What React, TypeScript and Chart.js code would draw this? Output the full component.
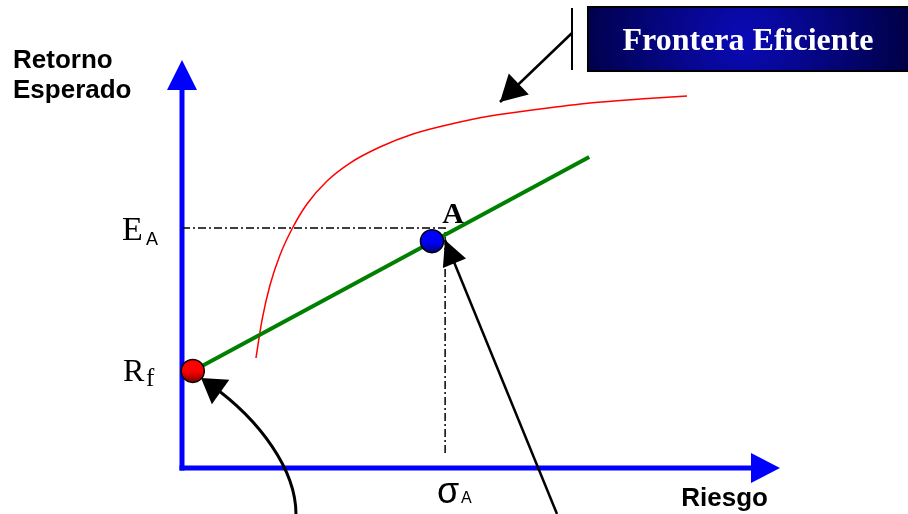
import React, { useEffect, useRef } from "react";
import { Chart, registerables } from "chart.js";

Chart.register(...registerables);

// ---- data (conceptual units: risk on x, expected return on y) ----
const frontierRisk = [1.237, 1.338, 1.472, 1.639, 1.839, 2.090, 2.425, 2.809, 3.311, 3.863, 4.431, 5.151, 5.987, 6.823, 7.659, 8.445];
const frontierReturn = [2.696, 3.627, 4.485, 5.221, 5.858, 6.471, 7.034, 7.475, 7.868, 8.186, 8.407, 8.627, 8.799, 8.946, 9.044, 9.118];
const cmlRisk = [0.18, 6.81];
const cmlReturn = [2.38, 7.62];
const portfolioNames = ["Rf", "A"];
const portfolioRisk = [0.18, 4.18];
const portfolioReturn = [2.38, 5.56];
const guideRisk = [0, 4.40, 4.40];
const guideReturn = [5.88, 5.88, 0.32];
const axisTitleY = ["Retorno", "Esperado"];
const axisTitleX = "Riesgo";
const boxLabel = "Frontera Eficiente";
const riskMax = 10;
const returnMax = 10;

// annotation anchors (data units)
const arrowRfFrom = [1.906, -1.127];
const arrowRfCtrl1 = [1.906, -0.049];
const arrowRfCtrl2 = [1.304, 1.176];
const arrowRfTo = [0.318, 2.206];
const arrowAFrom = [6.271, -1.127];
const arrowATo = [4.398, 5.588];
const arrowFrontFrom = [6.522, 10.662];
const arrowFrontTo = [5.318, 8.971];
const bracketX = [6.522, 6.522];
const bracketY = [11.275, 9.755];
const boxX = [6.789, 12.3];
const boxY = [11.299, 9.73];

const SERIF = '"Liberation Serif", "Times New Roman", serif';
const SANS = '"Liberation Sans", Arial, sans-serif';

function arrowHead(ctx: CanvasRenderingContext2D, fx: number, fy: number, tx: number, ty: number, len: number, half: number) {
  const dx = tx - fx;
  const dy = ty - fy;
  const d = Math.hypot(dx, dy) || 1;
  const ux = dx / d;
  const uy = dy / d;
  const bx = tx - ux * len;
  const by = ty - uy * len;
  ctx.beginPath();
  ctx.moveTo(tx, ty);
  ctx.lineTo(bx - uy * half, by + ux * half);
  ctx.lineTo(bx + uy * half, by - ux * half);
  ctx.closePath();
  ctx.fill();
}

const diagramPlugin = {
  id: "diagram",
  beforeDatasetsDraw(chart: any) {
    const ctx: CanvasRenderingContext2D = chart.ctx;
    const xs = chart.scales.x;
    const ys = chart.scales.y;
    const X0 = xs.getPixelForValue(0);
    const Y0 = ys.getPixelForValue(0);
    const XE = xs.getPixelForValue(riskMax);
    const YE = ys.getPixelForValue(returnMax);
    ctx.save();
    ctx.fillStyle = "#0000ff";
    ctx.fillRect(X0 - 2.5, YE + 28, 5, Y0 + 2.5 - (YE + 28));
    ctx.fillRect(X0 - 2.5, Y0 - 2.5, XE - 28 - (X0 - 2.5), 5);
    ctx.beginPath();
    ctx.moveTo(X0, YE);
    ctx.lineTo(X0 - 15, YE + 30);
    ctx.lineTo(X0 + 15, YE + 30);
    ctx.closePath();
    ctx.fill();
    ctx.beginPath();
    ctx.moveTo(XE, Y0);
    ctx.lineTo(XE - 29, Y0 - 15);
    ctx.lineTo(XE - 29, Y0 + 15);
    ctx.closePath();
    ctx.fill();
    ctx.restore();
  },
  afterDatasetsDraw(chart: any) {
    const ctx: CanvasRenderingContext2D = chart.ctx;
    const xs = chart.scales.x;
    const ys = chart.scales.y;
    const px = (v: number) => xs.getPixelForValue(v);
    const py = (v: number) => ys.getPixelForValue(v);
    const X0 = px(0);
    const Y0 = py(0);
    const XE = px(riskMax);
    const YE = py(returnMax);
    ctx.save();

    // arrows
    ctx.strokeStyle = "#000";
    ctx.fillStyle = "#000";
    ctx.lineCap = "butt";
    // curved arrow to Rf
    ctx.lineWidth = 3;
    ctx.beginPath();
    ctx.moveTo(px(arrowRfFrom[0]), py(arrowRfFrom[1]));
    ctx.bezierCurveTo(px(arrowRfCtrl1[0]), py(arrowRfCtrl1[1]), px(arrowRfCtrl2[0]), py(arrowRfCtrl2[1]), px(arrowRfTo[0]) + 10, py(arrowRfTo[1]) + 7);
    ctx.stroke();
    arrowHead(ctx, px(arrowRfCtrl2[0]), py(arrowRfCtrl2[1]), px(arrowRfTo[0]), py(arrowRfTo[1]), 24, 15);
    // straight arrow to A
    ctx.lineWidth = 2.5;
    ctx.beginPath();
    ctx.moveTo(px(arrowAFrom[0]), py(arrowAFrom[1]));
    ctx.lineTo(px(arrowATo[0]), py(arrowATo[1]));
    ctx.stroke();
    arrowHead(ctx, px(arrowAFrom[0]), py(arrowAFrom[1]), px(arrowATo[0]), py(arrowATo[1]), 25, 12.5);
    // arrow to frontier
    ctx.beginPath();
    ctx.moveTo(px(arrowFrontFrom[0]), py(arrowFrontFrom[1]));
    ctx.lineTo(px(arrowFrontTo[0]), py(arrowFrontTo[1]));
    ctx.stroke();
    arrowHead(ctx, px(arrowFrontFrom[0]), py(arrowFrontFrom[1]), px(arrowFrontTo[0]), py(arrowFrontTo[1]), 26, 14.5);
    // bracket
    ctx.lineWidth = 2;
    ctx.beginPath();
    ctx.moveTo(px(bracketX[0]), py(bracketY[0]));
    ctx.lineTo(px(bracketX[1]), py(bracketY[1]));
    ctx.stroke();

    // label box
    const bx0 = px(boxX[0]);
    const bx1 = px(boxX[1]);
    const by0 = py(boxY[0]);
    const by1 = py(boxY[1]);
    const cx = (bx0 + bx1) / 2;
    const cy = (by0 + by1) / 2;
    const g = ctx.createRadialGradient(cx - 10, cy, 5, cx - 10, cy, (bx1 - bx0) / 2);
    g.addColorStop(0, "#0a0ab4");
    g.addColorStop(1, "#000048");
    ctx.fillStyle = g;
    ctx.fillRect(bx0, by0, bx1 - bx0, by1 - by0);
    ctx.lineWidth = 2;
    ctx.strokeStyle = "#000";
    ctx.strokeRect(bx0, by0, bx1 - bx0, by1 - by0);
    ctx.fillStyle = "#ffffff";
    ctx.font = `bold 32px ${SERIF}`;
    ctx.textAlign = "center";
    ctx.textBaseline = "alphabetic";
    ctx.fillText(boxLabel, px(boxX[0]) + 160, cy + 11);

    // axis titles
    ctx.fillStyle = "#000";
    ctx.textAlign = "left";
    ctx.font = `bold 26px ${SANS}`;
    ctx.fillText(axisTitleY[0], X0 - 169, YE + 8);
    ctx.fillText(axisTitleY[1], X0 - 169, YE + 38);
    ctx.textAlign = "right";
    ctx.font = `bold 26px ${SANS}`;
    ctx.fillText(axisTitleX, XE - 12, Y0 + 38);

    // E_A
    const eY = py(guideReturn[0]);
    ctx.textAlign = "left";
    ctx.font = `34px ${SERIF}`;
    ctx.fillText("E", X0 - 60, eY + 12);
    ctx.font = `18px ${SANS}`;
    ctx.fillText("A", X0 - 36, eY + 17);
    // R_f
    const rY = py(portfolioReturn[0]);
    ctx.font = `32px ${SERIF}`;
    ctx.fillText("R", X0 - 59, rY + 10);
    ctx.font = `25px ${SERIF}`;
    ctx.fillText("f", X0 - 36, rY + 15);
    // sigma_A
    const sX = px(guideRisk[1]);
    ctx.font = `36px ${SANS}`;
    ctx.fillText("σ", sX - 8, Y0 + 35);
    ctx.font = `16px ${SANS}`;
    ctx.fillText("A", sX + 16, Y0 + 35);
    // A label
    ctx.font = `bold 30px ${SERIF}`;
    ctx.textAlign = "center";
    ctx.fillText(portfolioNames[1], px(portfolioRisk[1]) + 21, py(portfolioReturn[1]) - 18);

    ctx.restore();
  },
};

function pointFill(light: string, dark: string, idx: number) {
  return (c: any) => {
    const chart = c.chart;
    if (!chart.chartArea) return dark;
    const x = chart.scales.x.getPixelForValue(portfolioRisk[idx]);
    const y = chart.scales.y.getPixelForValue(portfolioReturn[idx]);
    const g = chart.ctx.createLinearGradient(x, y - 12, x, y + 12);
    g.addColorStop(0, light);
    g.addColorStop(0.5, light);
    g.addColorStop(1, dark);
    return g;
  };
}

export default function App() {
  const ref = useRef<HTMLCanvasElement | null>(null);
  useEffect(() => {
    if (!ref.current) return;
    const chart = new Chart(ref.current, {
      type: "scatter",
      data: {
        datasets: [
          {
            label: portfolioNames[0],
            data: [{ x: portfolioRisk[0], y: portfolioReturn[0] }],
            pointRadius: 11.5,
            pointBackgroundColor: pointFill("#ff0000", "#7a0000", 0) as any,
            pointBorderColor: "#000",
            pointBorderWidth: 1.5,
            showLine: false,
            clip: false,
            order: 0,
          },
          {
            label: portfolioNames[1],
            data: [{ x: portfolioRisk[1], y: portfolioReturn[1] }],
            pointRadius: 11.5,
            pointBackgroundColor: pointFill("#0000ff", "#00007a", 1) as any,
            pointBorderColor: "#000",
            pointBorderWidth: 1.5,
            showLine: false,
            clip: false,
            order: 0,
          },
          {
            label: "CML",
            data: cmlRisk.map((x, i) => ({ x, y: cmlReturn[i] })),
            showLine: true,
            borderColor: "#008000",
            borderWidth: 4,
            pointRadius: 0,
            clip: false,
            order: 1,
          },
          {
            label: "Frontera",
            data: frontierRisk.map((x, i) => ({ x, y: frontierReturn[i] })),
            showLine: true,
            borderColor: "#ff0000",
            borderWidth: 1.5,
            pointRadius: 0,
            cubicInterpolationMode: "monotone",
            clip: false,
            order: 2,
          },
          {
            label: "guias",
            data: guideRisk.map((x, i) => ({ x, y: guideReturn[i] })),
            showLine: true,
            borderColor: "#000",
            borderWidth: 1.5,
            borderDash: [8, 3, 2, 3],
            pointRadius: 0,
            clip: false,
            order: 3,
          },
        ] as any,
      },
      options: {
        animation: false,
        responsive: false,
        events: [],
        layout: { padding: { left: 182, right: 128, top: 60, bottom: 46 } },
        scales: {
          x: { type: "linear", min: 0, max: riskMax, display: false },
          y: { type: "linear", min: 0, max: returnMax, display: false },
        },
        plugins: { legend: { display: false }, tooltip: { enabled: false } },
      },
      plugins: [diagramPlugin],
    });
    return () => chart.destroy();
  }, []);
  return (
    <div style={{ position: "fixed", left: 0, top: 0, width: 908, height: 514, background: "#fff" }}>
      <canvas ref={ref} width={908} height={514} style={{ display: "block" }} />
    </div>
  );
}
